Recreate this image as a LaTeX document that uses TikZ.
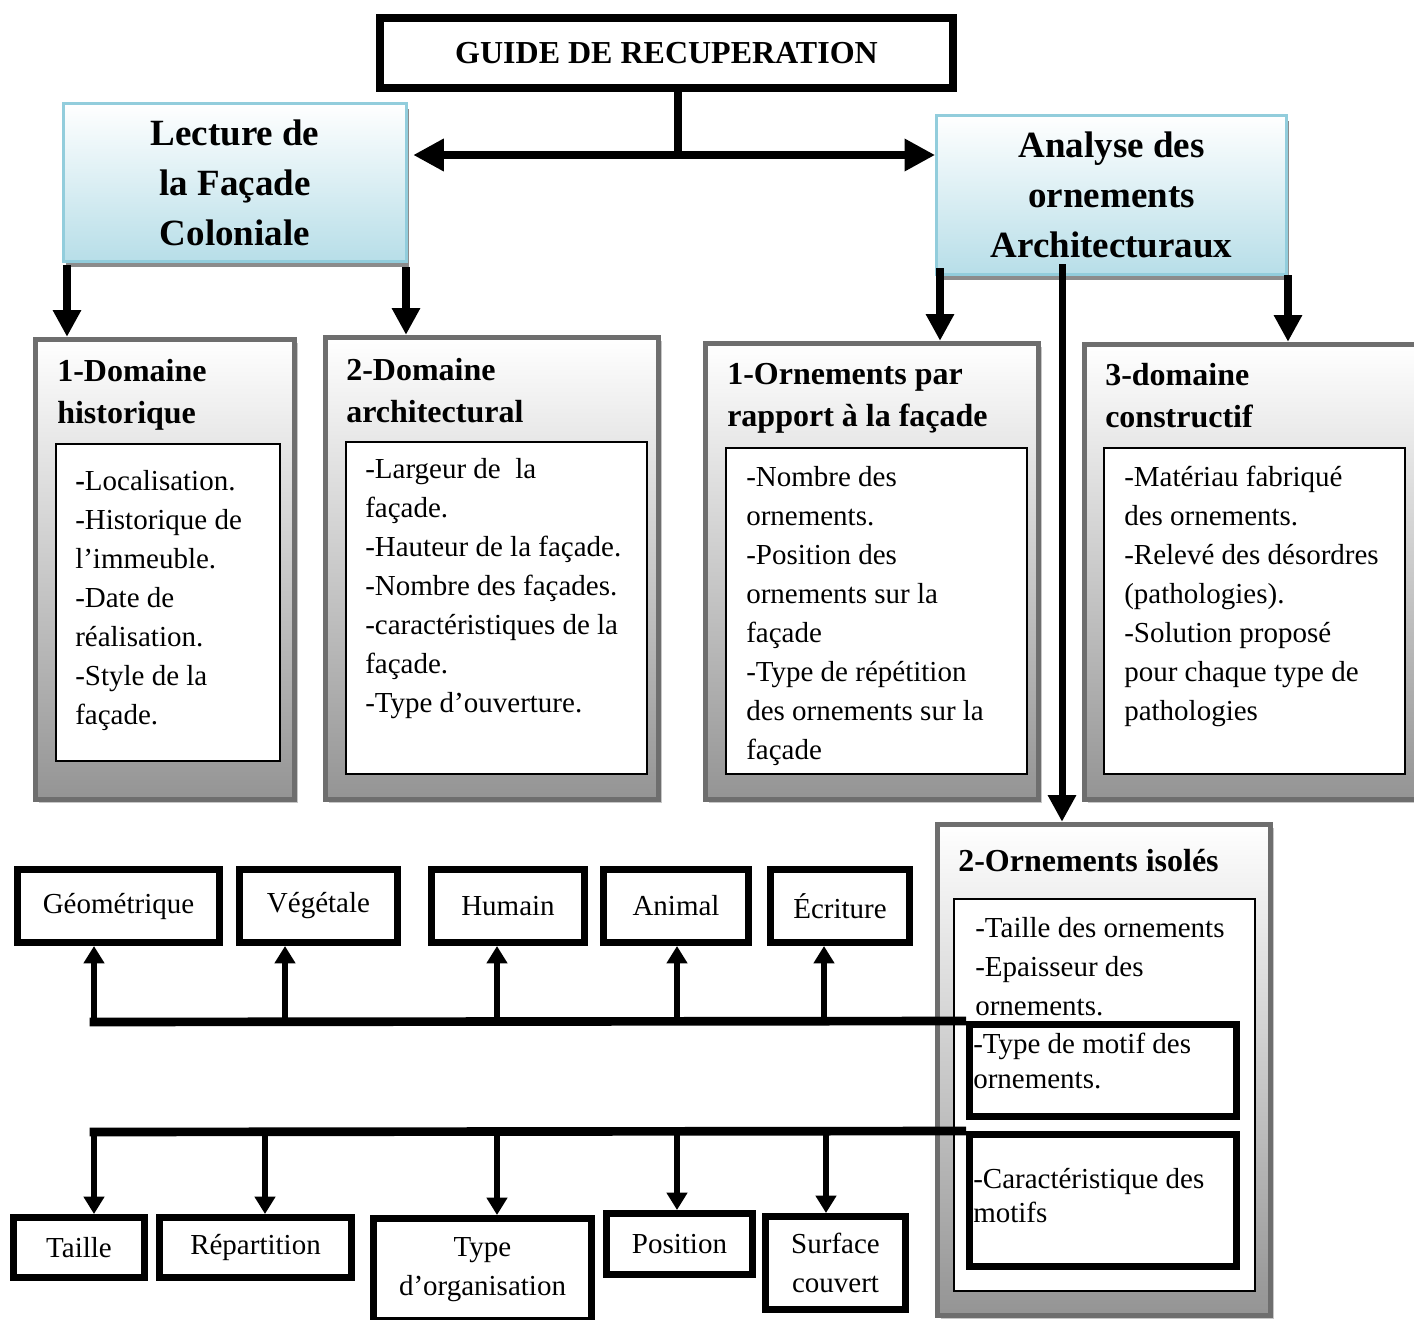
\documentclass[tikz,border=0pt]{standalone}
\usepackage{fontspec}
\setmainfont{Liberation Serif}
\usepackage{xcolor}
\usepackage{tikz}
\usetikzlibrary{arrows.meta,shadows}
\definecolor{skyfill}{RGB}{183,222,232}
\definecolor{skyedge}{RGB}{146,205,220}
\definecolor{frameedge}{RGB}{110,110,110}
\newcommand{\bodyfont}{\fontsize{21.75}{29.25}\selectfont}
\newcommand{\tightfont}{\fontsize{21.75}{26}\selectfont}
\newcommand{\headfont}{\fontsize{24}{31.5}\selectfont\bfseries}
\newcommand{\titlefont}{\fontsize{27.75}{37.5}\selectfont\bfseries}

\begin{document}
\begin{tikzpicture}[x=0.75pt, y=-0.75pt,
    >={Triangle[length=20pt,width=20pt]},
    boxsize/.style 2 args={minimum width=#1*0.75pt, minimum height=#2*0.75pt},
    titlebox/.style={draw=skyedge, line width=2pt, top color=white, bottom color=skyfill,
      inner sep=0pt, align=center, font=\titlefont,
      drop shadow={shadow xshift=2pt, shadow yshift=-4pt, fill=black!45, opacity=1}},
    framebox/.style={draw=frameedge, line width=4pt, top color=white, middle color=black!10,
      bottom color=black!42, inner sep=0pt,
      drop shadow={shadow xshift=2.5pt, shadow yshift=-2.5pt, fill=black!22, opacity=1}},
    listbox/.style={draw, line width=1.5pt, fill=white, inner sep=0pt},
    itembox/.style={draw, line width=5.25pt, fill=white, inner sep=0pt, align=center, font=\bodyfont},
    headtext/.style={anchor=north west, inner sep=0pt, align=left, font=\headfont, execute at begin node=\strut},
    listtext/.style={anchor=north west, inner sep=0pt, align=left, font=\bodyfont, execute at begin node=\strut},
    link/.style={line width=6pt},
    bus/.style={line width=6.5pt, shorten >=-3.25pt},
    branch/.style={line width=5pt, -{Triangle[length=13pt,width=15pt]}}]
  \useasboundingbox (0,0) rectangle (1414,1320);

  \node[draw, line width=6pt, boxsize={573}{70}, font=\headfont] (guide) at (666.5,53) {GUIDE DE RECUPERATION};
  \node[titlebox, boxsize={343}{158}] (lecture) at (235,182.5) {Lecture de\\la Façade\\Coloniale};
  \node[titlebox, boxsize={350}{159}] (analyse) at (1111.5,195) {Analyse des\\ornements\\Architecturaux};

  \node[framebox, boxsize={259}{460}] (hist) at (165,569.5) {};
  \node[framebox, boxsize={333}{462}] (archi) at (492,568.5) {};
  \node[framebox, boxsize={333}{456}] (ornfac) at (872,571.5) {};
  \node[framebox, boxsize={333}{455}] (constr) at (1251,572) {};
  \node[framebox, boxsize={333}{491}] (isoles) at (1104,1070) {};

  \node[listbox, boxsize={224}{317}] (histlist) at (168,602.5) {};
  \node[listbox, boxsize={301}{332}] (archilist) at (496.5,608) {};
  \node[listbox, boxsize={301}{326}] (ornfaclist) at (876.5,611) {};
  \node[listbox, boxsize={301}{326}] (constrlist) at (1254.5,611) {};
  \node[listbox, boxsize={301}{392}] (isoleslist) at (1104.5,1095) {};

  \node[headtext] (histhead) at (57,358.6) {1-Domaine\\historique};
  \node[headtext] (archihead) at (346,357.6) {2-Domaine\\architectural};
  \node[headtext] (ornfachead) at (727,362.6) {1-Ornements par\\rapport à la façade};
  \node[headtext] (constrhead) at (1105,362.6) {3-domaine\\constructif};
  \node[headtext] (isoleshead) at (958,841.6) {2-Ornements isolés};

  \node[listtext] (histtext) at (75,469.7)
    {\textbf{-}Localisation.\\-Historique de\\l’immeuble.\\-Date de\\réalisation.\\-Style de la\\façade.};
  \node[listtext] (architext) at (365,457.7)
    {-Largeur de\ \ la\\façade.\\-Hauteur de la façade.\\-Nombre des façades.\\-caractéristiques de la\\façade.\\-Type d’ouverture.};
  \node[listtext] (ornfactext) at (746,465.7)
    {-Nombre des\\ornements.\\-Position des\\ornements sur la\\façade\\-Type de répétition\\des ornements sur la\\façade};
  \node[listtext] (constrtext) at (1124,465.7)
    {-Matériau fabriqué\\des ornements.\\-Relevé des désordres\\(pathologies).\\-Solution proposé\\pour chaque type de\\pathologies};
  \node[listtext] (isolestext) at (975,916.7)
    {-Taille des ornements\\-Epaisseur des\\ornements.};

  \coordinate (hub) at (678,155);
  \coordinate (histdrop) at (67,265);
  \coordinate (archidrop) at (406,267);
  \coordinate (ornfacdrop) at (940,268);
  \coordinate (constrdrop) at (1288,275);
  \coordinate (isolesdrop) at (1062,264);
  \draw[link] (guide.south -| hub) -- (hub);
  \draw[link, <->, >={Triangle[length=23pt,width=23pt]}, shorten <=4pt] (lecture.east |- hub) -- (analyse.west |- hub);
  \draw[link, ->] (histdrop) -- (histdrop |- hist.north);
  \draw[link, ->] (archidrop) -- (archidrop |- archi.north);
  \draw[link, ->] (ornfacdrop) -- (ornfacdrop |- ornfac.north);
  \draw[link, ->] (constrdrop) -- (constrdrop |- constr.north);
  \draw[link, line width=5.25pt, ->] (isolesdrop) -- (isolesdrop |- isoles.north);

  \node[itembox, boxsize={267}{92}] (motif) at (1103,1070.5) {};
  \node[itembox, boxsize={267}{132}] (carac) at (1103,1200.5) {};
  \node[listtext, font=\tightfont] (motiftext) at (973,1032.7) {-Type de motif des\\ornements.};
  \node[listtext, font=\tightfont] (caractext) at (973,1167.7) {-Caractéristique des\\motifs};

  \node[itembox, boxsize={202}{73}] (geo) at (118.5,906) {Géométrique};
  \node[itembox, boxsize={158}{73}] (veg) at (318.5,906) {Végétale};
  \node[itembox, boxsize={153}{73}] (hum) at (508,906) {Humain};
  \node[itembox, boxsize={145}{73}] (ani) at (676,906) {Animal};
  \node[itembox, boxsize={139}{73}] (ecr) at (840,906) {Écriture};

  \node[itembox, boxsize={131}{60}] (taille) at (79,1247.5) {Taille};
  \node[itembox, boxsize={192}{60}] (repart) at (255.5,1247.5) {Répartition};
  \node[itembox, boxsize={218}{102}] (typeorg) at (482.5,1269.5) {Type\\d’organisation};
  \node[itembox, boxsize={146}{61}] (pos) at (679.5,1244) {Position};
  \node[itembox, boxsize={140}{93}] (surf) at (835.5,1263) {Surface\\couvert};

  \coordinate (topbus) at (94,1022);
  \coordinate (lowbus) at (94,1132);
  \coordinate (vegbr) at (285,1022);
  \coordinate (humbr) at (497,1022);
  \coordinate (anibr) at (677,1022);
  \coordinate (ecrbr) at (824,1022);
  \coordinate (repartbr) at (265,1128);
  \coordinate (typeorgbr) at (497,1132);
  \coordinate (posbr) at (677,1132);
  \coordinate (surfbr) at (826,1132);
  \draw[bus] (motif.north west) -- (topbus);
  \draw[bus] (carac.north west) -- (lowbus);
  \draw[branch] (topbus) -- (topbus |- geo.south);
  \draw[branch] (vegbr) -- (vegbr |- veg.south);
  \draw[branch] (humbr) -- (humbr |- hum.south);
  \draw[branch] (anibr) -- (anibr |- ani.south);
  \draw[branch] (ecrbr) -- (ecrbr |- ecr.south);
  \draw[branch] (lowbus) -- (lowbus |- taille.north);
  \draw[branch] (repartbr) -- (repartbr |- repart.north);
  \draw[branch] (typeorgbr) -- (typeorgbr |- typeorg.north);
  \draw[branch] (posbr) -- (posbr |- pos.north);
  \draw[branch] (surfbr) -- (surfbr |- surf.north);
\end{tikzpicture}
\end{document}
